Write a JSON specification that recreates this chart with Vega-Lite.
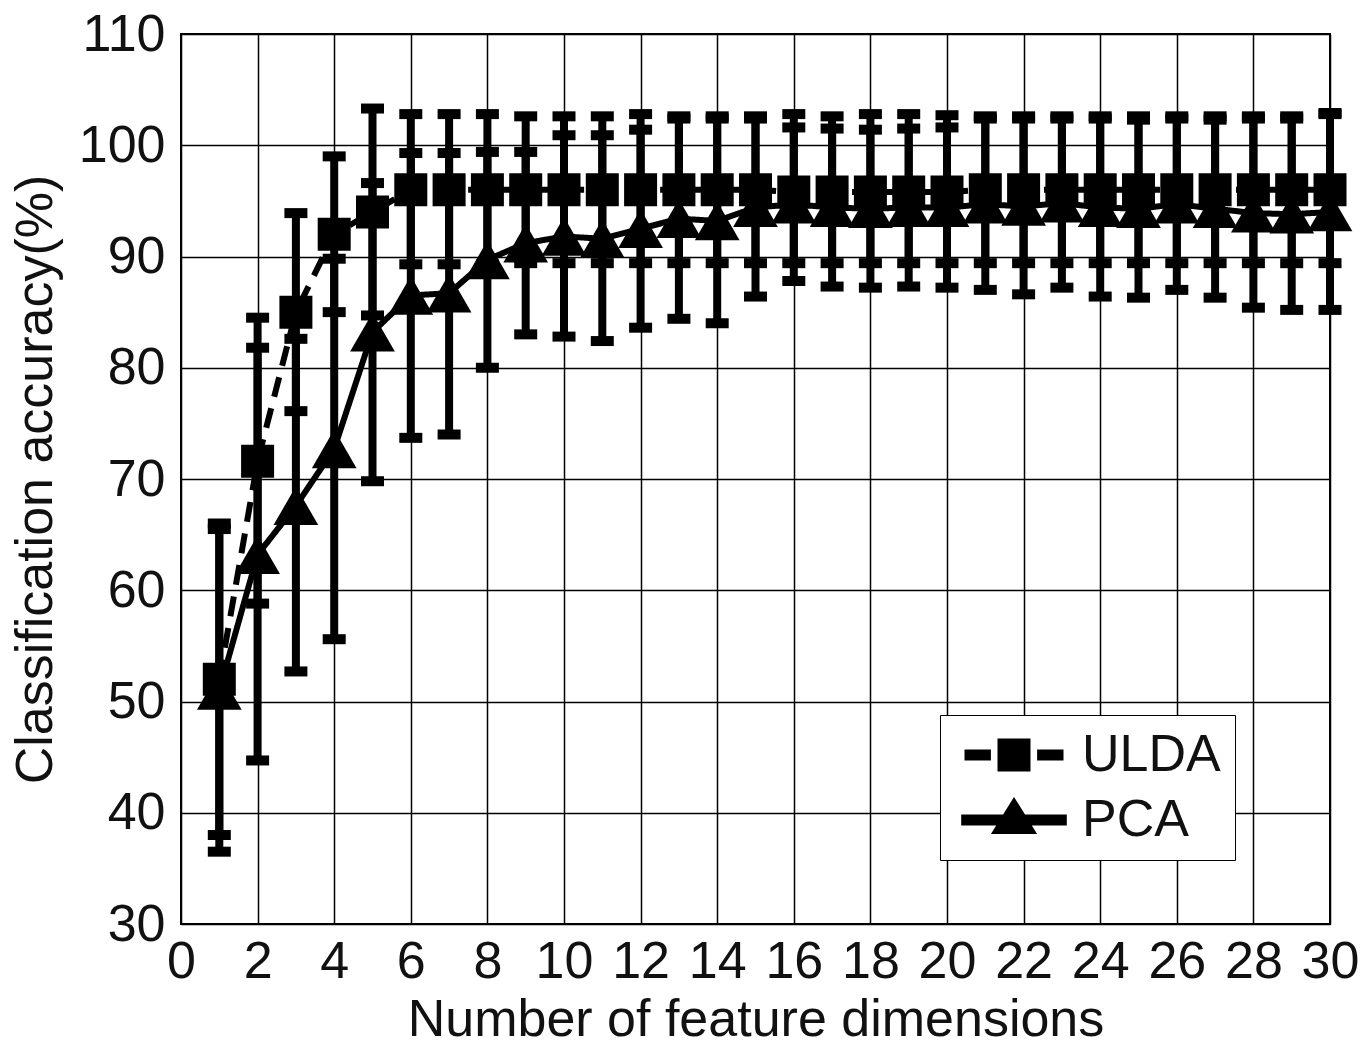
{
  "$schema": "https://vega.github.io/schema/vega-lite/v6.json",
  "width": 1149,
  "height": 890,
  "autosize": {"type": "none"},
  "padding": {"left": 181, "top": 34, "right": 42, "bottom": 122},
  "background": "white",
  "config": {
    "font": "Liberation Sans",
    "view": {"stroke": "black", "strokeWidth": 2},
    "axis": {
      "grid": true, "gridColor": "black", "gridOpacity": 1, "gridWidth": 1.5,
      "domain": false, "ticks": false,
      "labelFont": "Liberation Sans", "labelFontSize": 52, "labelColor": "#111111",
      "labelFlush": false, "labelOverlap": false,
      "titleFont": "Liberation Sans", "titleFontSize": 52, "titleFontWeight": "normal", "titleColor": "#111111"
    },
    "legend": {
      "orient": "none", "legendX": 759, "legendY": 681,
      "strokeColor": "black", "fillColor": "white", "padding": 14,
      "labelFont": "Liberation Sans", "labelFontSize": 52, "labelColor": "#111111",
      "symbolSize": 1089, "symbolOffset": 34, "labelOffset": 42, "rowPadding": 13,
      "symbolFillColor": "black", "symbolStrokeWidth": 0, "symbolOpacity": 1
    }
  },
  "data": {"values": [
    {"x":1,"method":"ULDA","mean":52,"lo":38,"hi":66},
    {"x":2,"method":"ULDA","mean":71.6,"lo":58.8,"hi":84.5},
    {"x":3,"method":"ULDA","mean":85,"lo":76.1,"hi":93.9},
    {"x":4,"method":"ULDA","mean":92,"lo":85,"hi":99},
    {"x":5,"method":"ULDA","mean":94,"lo":84.7,"hi":103.3},
    {"x":6,"method":"ULDA","mean":96,"lo":89.3,"hi":102.8},
    {"x":7,"method":"ULDA","mean":96,"lo":89.3,"hi":102.8},
    {"x":8,"method":"ULDA","mean":96,"lo":89.3,"hi":102.8},
    {"x":9,"method":"ULDA","mean":96,"lo":89.4,"hi":102.6},
    {"x":10,"method":"ULDA","mean":96,"lo":89.4,"hi":102.6},
    {"x":11,"method":"ULDA","mean":96,"lo":89.4,"hi":102.6},
    {"x":12,"method":"ULDA","mean":96,"lo":89.4,"hi":102.8},
    {"x":13,"method":"ULDA","mean":96,"lo":89.4,"hi":102.6},
    {"x":14,"method":"ULDA","mean":96,"lo":89.4,"hi":102.6},
    {"x":15,"method":"ULDA","mean":96,"lo":89.4,"hi":102.6},
    {"x":16,"method":"ULDA","mean":95.8,"lo":89.4,"hi":102.8},
    {"x":17,"method":"ULDA","mean":95.8,"lo":89.4,"hi":102.6},
    {"x":18,"method":"ULDA","mean":95.8,"lo":89.4,"hi":102.8},
    {"x":19,"method":"ULDA","mean":95.8,"lo":89.4,"hi":102.8},
    {"x":20,"method":"ULDA","mean":95.8,"lo":89.4,"hi":102.7},
    {"x":21,"method":"ULDA","mean":96,"lo":89.4,"hi":102.6},
    {"x":22,"method":"ULDA","mean":96,"lo":89.4,"hi":102.6},
    {"x":23,"method":"ULDA","mean":96,"lo":89.4,"hi":102.6},
    {"x":24,"method":"ULDA","mean":96,"lo":89.4,"hi":102.6},
    {"x":25,"method":"ULDA","mean":96,"lo":89.4,"hi":102.6},
    {"x":26,"method":"ULDA","mean":96,"lo":89.4,"hi":102.6},
    {"x":27,"method":"ULDA","mean":96,"lo":89.4,"hi":102.6},
    {"x":28,"method":"ULDA","mean":96,"lo":89.4,"hi":102.6},
    {"x":29,"method":"ULDA","mean":96,"lo":89.4,"hi":102.6},
    {"x":30,"method":"ULDA","mean":96,"lo":89.4,"hi":102.9},
    {"x":1,"method":"PCA","mean":51,"lo":36.5,"hi":65.5},
    {"x":2,"method":"PCA","mean":63.2,"lo":44.7,"hi":81.8},
    {"x":3,"method":"PCA","mean":67.6,"lo":52.7,"hi":82.6},
    {"x":4,"method":"PCA","mean":72.7,"lo":55.6,"hi":89.8},
    {"x":5,"method":"PCA","mean":83.2,"lo":69.8,"hi":96.6},
    {"x":6,"method":"PCA","mean":86.5,"lo":73.7,"hi":99.3},
    {"x":7,"method":"PCA","mean":86.7,"lo":74,"hi":99.3},
    {"x":8,"method":"PCA","mean":89.7,"lo":80,"hi":99.4},
    {"x":9,"method":"PCA","mean":91.2,"lo":83,"hi":99.4},
    {"x":10,"method":"PCA","mean":91.8,"lo":82.8,"hi":100.9},
    {"x":11,"method":"PCA","mean":91.6,"lo":82.4,"hi":100.9},
    {"x":12,"method":"PCA","mean":92.5,"lo":83.6,"hi":101.4},
    {"x":13,"method":"PCA","mean":93.4,"lo":84.4,"hi":102.4},
    {"x":14,"method":"PCA","mean":93.2,"lo":84,"hi":102.4},
    {"x":15,"method":"PCA","mean":94.4,"lo":86.4,"hi":102.4},
    {"x":16,"method":"PCA","mean":94.7,"lo":87.8,"hi":101.6},
    {"x":17,"method":"PCA","mean":94.4,"lo":87.3,"hi":101.5},
    {"x":18,"method":"PCA","mean":94.3,"lo":87.2,"hi":101.4},
    {"x":19,"method":"PCA","mean":94.4,"lo":87.3,"hi":101.5},
    {"x":20,"method":"PCA","mean":94.4,"lo":87.2,"hi":101.6},
    {"x":21,"method":"PCA","mean":94.7,"lo":87,"hi":102.4},
    {"x":22,"method":"PCA","mean":94.5,"lo":86.6,"hi":102.4},
    {"x":23,"method":"PCA","mean":94.8,"lo":87.2,"hi":102.4},
    {"x":24,"method":"PCA","mean":94.4,"lo":86.4,"hi":102.4},
    {"x":25,"method":"PCA","mean":94.3,"lo":86.3,"hi":102.3},
    {"x":26,"method":"PCA","mean":94.7,"lo":87,"hi":102.4},
    {"x":27,"method":"PCA","mean":94.3,"lo":86.3,"hi":102.3},
    {"x":28,"method":"PCA","mean":93.9,"lo":85.4,"hi":102.4},
    {"x":29,"method":"PCA","mean":93.8,"lo":85.2,"hi":102.4},
    {"x":30,"method":"PCA","mean":94,"lo":85.2,"hi":102.8}
  ]},
  "encoding": {
    "x": {"field": "x", "type": "quantitative",
      "scale": {"domain": [0, 30], "nice": false},
      "axis": {"values": [0,2,4,6,8,10,12,14,16,18,20,22,24,26,28,30], "labelPadding": 12, "title": "Number of feature dimensions", "titlePadding": 7}}
  },
  "resolve": {"scale": {"shape": "independent"}, "legend": {"shape": "independent"}},
  "layer": [
    {
      "mark": {"type": "rule", "strokeWidth": 8, "color": "black"},
      "encoding": {
        "y": {"field": "lo", "type": "quantitative",
          "scale": {"domain": [30, 110], "nice": false, "zero": false},
          "axis": {"values": [30,40,50,60,70,80,90,100,110], "labelPadding": 16, "title": "Classification accuracy(%)", "titlePadding": 16}},
        "y2": {"field": "hi"}
      }
    },
    {
      "mark": {"type": "tick", "orient": "horizontal", "size": 23, "thickness": 10, "color": "black", "opacity": 1},
      "encoding": {"y": {"field": "lo", "type": "quantitative"}}
    },
    {
      "mark": {"type": "tick", "orient": "horizontal", "size": 23, "thickness": 10, "color": "black", "opacity": 1},
      "encoding": {"y": {"field": "hi", "type": "quantitative"}}
    },
    {
      "mark": {"type": "line", "strokeWidth": 6, "color": "black"},
      "encoding": {
        "y": {"field": "mean", "type": "quantitative"},
        "strokeDash": {"field": "method", "type": "nominal", "legend": null,
          "scale": {"domain": ["ULDA", "PCA"], "range": [[20, 12], [1, 0]]}}
      }
    },
    {
      "transform": [{"filter": "datum.method === 'ULDA'"}],
      "mark": {"type": "point", "shape": "square", "filled": true, "opacity": 1, "color": "black", "strokeWidth": 0, "size": 1089},
      "encoding": {"y": {"field": "mean", "type": "quantitative"}}
    },
    {
      "transform": [{"filter": "datum.method === 'PCA'"}],
      "mark": {"type": "point", "shape": "triangle-up", "filled": true, "opacity": 1, "color": "black", "strokeWidth": 0, "size": 2000},
      "encoding": {"y": {"field": "mean", "type": "quantitative"}}
    },
    {
      "transform": [{"filter": "false"}],
      "mark": {"type": "point", "filled": true, "opacity": 1, "color": "black", "strokeWidth": 0},
      "encoding": {
        "y": {"field": "mean", "type": "quantitative"},
        "shape": {"field": "method", "type": "nominal", "title": null,
          "scale": {"domain": ["ULDA", "PCA"], "range": [
            "M-3,-0.33H-1.4V0.33H-3Z M-1,-1H1V1H-1Z M1.4,-0.33H3V0.33H1.4Z",
            "M-3.2,-0.33H3.2V0.33H-3.2Z M-1.4,0.85L0,-1.4L1.4,0.85Z"
          ]},
          "legend": {"title": null}
        }
      }
    }
  ]
}
